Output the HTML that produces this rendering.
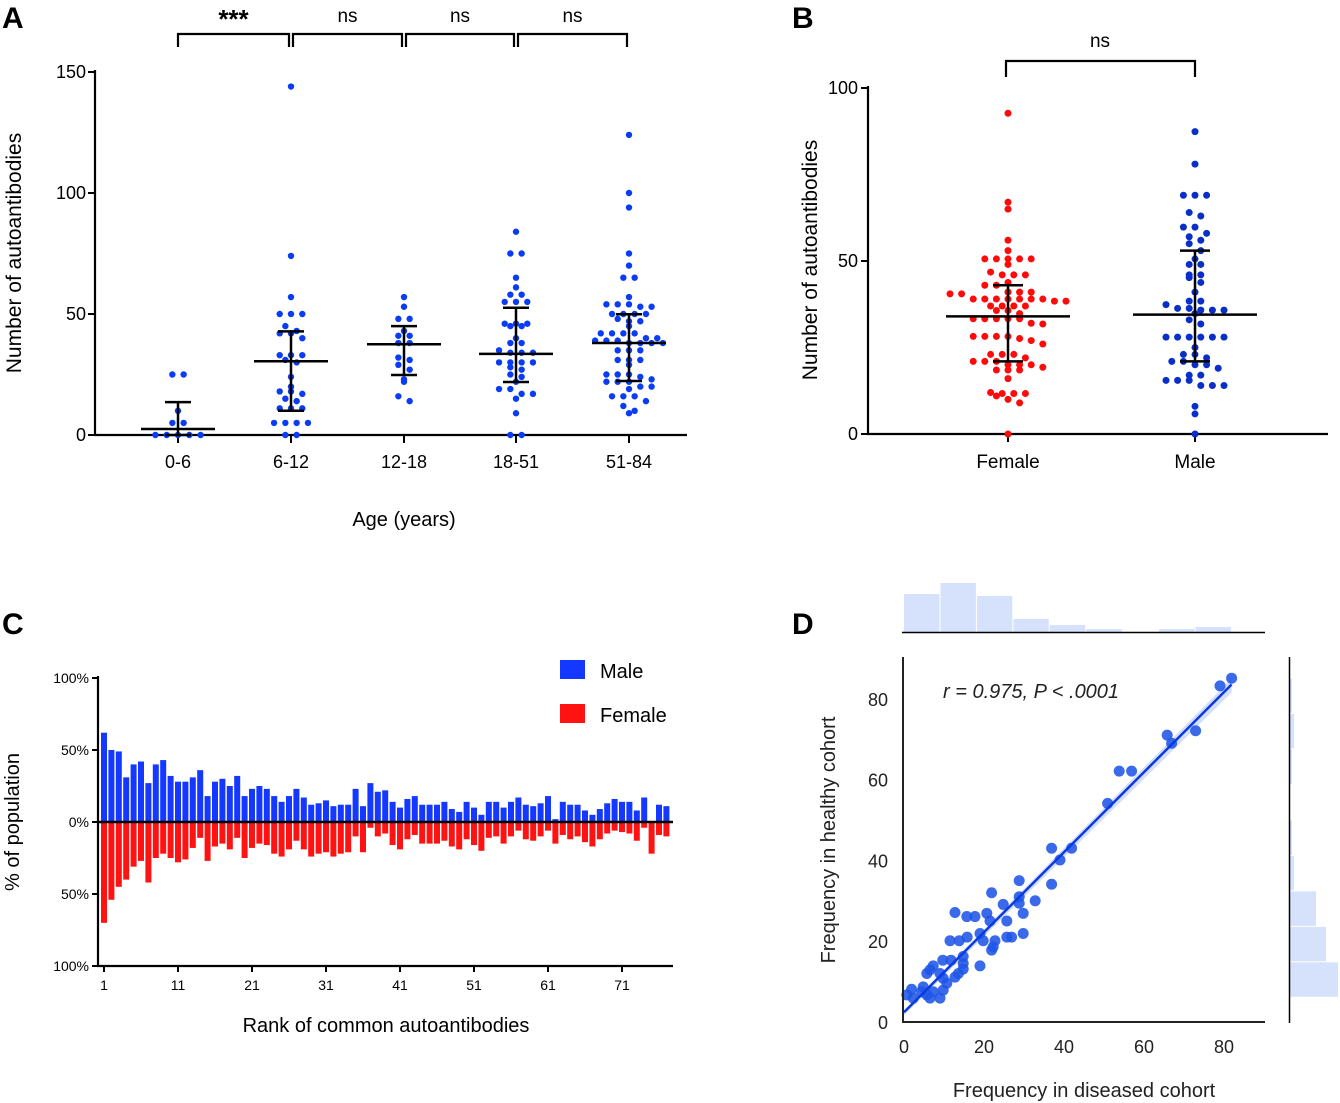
<!DOCTYPE html>
<html><head><meta charset="utf-8">
<style>
html,body{margin:0;padding:0;background:#fff;}
svg{display:block;font-family:"Liberation Sans",Arial,sans-serif;}
</style></head>
<body>
<svg id="fig" width="1340" height="1103" viewBox="0 0 1340 1103" xmlns="http://www.w3.org/2000/svg">
<g font-weight="bold" font-size="30">
<text x="2" y="28">A</text>
<text x="792" y="28">B</text>
<text x="2" y="634">C</text>
<text x="792" y="634">D</text>
</g>
<g id="pa"></g>
<g id="pb"></g>
<g id="pc"></g>
<g id="pd"></g>
</svg>
<script>
// ---------- Panel A data ----------
const ageGroups = ["0-6","6-12","12-18","18-51","51-84"];
const ageVals0 = [25,25,10,5,5,0,0,0,0,0];
const ageVals1 = [144,74,57,50,50,50,45,42,42,43,40,33,33,33,31,30,24,20,18,18,17,15,14,11,11,11,5,5,5,5,0,0];
const ageVals2 = [57,53,48,48,43,41,41,38,38,32,31,29,27,23,22,16,14];
const ageVals3 = [84,75,75,65,61,58,58,55,55,55,46,46,46,45,45,40,38,38,35,34,34,34,30,30,30,30,28,27,25,24,22,19,19,17,17,15,9,0,0];
const ageVals4 = [124,100,94,75,70,65,65,57,54,54,54,53,53,50,50,50,50,48,47,47,45,42,42,42,42,40,40,39,39,39,38,38,38,38,35,35,35,31,31,31,29,25,25,25,24,23,22,22,22,20,20,19,16,16,16,14,12,10,9];
const ageMean = [2.5,30.5,37.5,33.5,38];
const ageLow = [0,10,24.8,21.9,22.3];
const ageHigh = [13.6,42.8,45,52.6,49.9];
const ageTicks = [0,50,100,150];
const ageSig = ["***","ns","ns","ns"];
// ---------- Panel B data ----------
const sexGroups = ["Female","Male"];
const femaleVals = [92.7,67,65,56,53,50.6,50.6,50.6,50.6,50.6,49,46.8,46,46,46,43.8,43,43,41,41,41,40.5,40.5,39,39,39,39,39,39,39,38.4,38.4,37,37,37,37,35.7,35.7,34.8,33.3,33.3,33.3,33.3,33.3,32,31.8,28.2,28.2,28.2,28.2,27.6,27,26,23,23,23,22,21,21,21,20,20,20,19.3,18.5,18.5,18.5,16,12,11.7,11.7,11.7,11,10,9,0];
const maleVals = [87.4,78,69,69,69,64,63,59.8,59.8,58,57,56,55,53,50.6,49,49,46,46,45.2,43.8,41,38.4,38.4,37.4,36.3,36.3,35.8,35.8,35.8,34.8,33,31.8,28,28,28,28,28,28,25,23,23,22,21,21,20,20,19,17,17,15.5,15.5,15.5,14,14,14,8,5.8,0];
const sexMean = [34,34.5];
const sexLow = [21,21];
const sexHigh = [43,53];
const sexTicks = [0,50,100];
// ---------- Panel C data ----------
const maleFreq = [62,50,49,31,40,42,27,40,43,32,28,28,31,36,18,28,30,25,32,18,23,25,23,18,14,18,23,17,12,13,15,11,12,12,23,11,27,21,22,14,10,16,18,12,12,12,14,9,7,14,10,5,14,14,10,14,17,12,11,13,18,2,14,12,12,8,5,9,13,16,14,14,8,17,0,12,11];
const femaleFreq = [70,54,45,40,31,27,42,25,22,25,28,26,18,11,27,17,15,19,11,25,18,15,16,22,24,19,13,19,24,22,21,24,22,21,10,21,4,10,8,16,19,12,9,15,15,15,13,17,19,12,16,20,11,10,15,10,6,12,13,10,6,15,9,12,10,14,17,12,8,6,7,8,13,4,22,9,10];
const rankTicks = [1,11,21,31,41,51,61,71];
const pctTicks = [100,50,0,-50,-100];
// ---------- Panel D data ----------
const diseasedFreq = [81.9,79,72.9,66.9,65.8,56.9,53.8,50.9,41.9,39,36.9,36.9,32.8,28.8,28.8,28.8,29.8,24.8,21.9,20.7,17.75,15.7,12.75,25.7,21.5,25.7,26.9,29.8,22.75,22.3,21.9,19,19.8,15.8,13.8,11.5,19,14.8,14.8,11.75,9.7,7.3,5.7,6.5,12.75,9.8,9,4.8,4.4,7.3,9.8,6.5,9,1.9,0.7,2.3,5.7,13.6,14.8,10.7];
const healthyFreq = [85.1,83.2,72.1,69,71,62.1,62.1,54.1,43,40.1,43,34.1,30,35,31,29.4,26.9,29.1,32,26.9,26.1,26.1,27.1,25,25,21,21,21.9,20.1,18.6,17.8,21.9,20.1,21,20.1,20.1,13.9,16.2,13.1,15.3,15.3,13.9,12,12.9,11.1,10.8,12,8.7,7.5,7.5,7.9,5.9,5.9,8.1,6.7,5.9,6.7,12,14.5,9.6];
const topHistCounts = [38,49,36,13,7,3,0,3,5];
const rightHistCounts = [48,36,26,4,2,0,2,4,2];
const dTicks = [0,20,40,60,80];

const NS = "http://www.w3.org/2000/svg";
function mk(parent, tag, attrs, text){
  const el = document.createElementNS(NS, tag);
  for (const k in attrs) el.setAttribute(k, attrs[k]);
  if (text !== undefined) el.textContent = text;
  parent.appendChild(el);
  return el;
}
// row-binned scatter (GraphPad style)
function swarm(vals, yfn, cx, spacing, rowH){
  const bins = {};
  vals.forEach(v=>{
    const yy = yfn(v);
    const b = Math.round(yy/rowH);
    (bins[b] = bins[b] || []).push(yy);
  });
  const out = [];
  Object.keys(bins).forEach(b=>{
    const arr = bins[b];
    const n = arr.length;
    arr.forEach((yy,k)=>{
      out.push({x: cx + (k-(n-1)/2)*spacing, y: yy});
    });
  });
  return out;
}

// ================= PANEL A =================
(function(){
  const g = document.getElementById('pa');
  const y = v => 435 - v*2.42;
  const cx = [178,291,404,516,629];
  const all = [ageVals0,ageVals1,ageVals2,ageVals3,ageVals4];
  let ax = mk(g,'line',{x1:95,y1:70,x2:95,y2:436,stroke:'#000','stroke-width':2.2});
   
  ax = mk(g,'line',{x1:94,y1:435,x2:687,y2:435,stroke:'#000','stroke-width':2.2});
   
  ageTicks.forEach(t=>{
    mk(g,'line',{x1:88,y1:y(t),x2:95,y2:y(t),stroke:'#000','stroke-width':2});
    const tl = mk(g,'text',{x:86,y:y(t)+6,'text-anchor':'end','font-size':18},t);
     
  });
  ageGroups.forEach((grp,i)=>{
    mk(g,'line',{x1:cx[i],y1:435,x2:cx[i],y2:443,stroke:'#000','stroke-width':2});
    const tl = mk(g,'text',{x:cx[i],y:468,'text-anchor':'middle','font-size':18},grp);
     
    const pts = swarm(all[i], y, cx[i], 11.3, 8);
    pts.forEach(p=>{
      const c = mk(g,'circle',{cx:p.x,cy:p.y,r:3.2,fill:'#0a3cf5'});
       
    });
    const mw = 37, cw = 13;
    let m = mk(g,'line',{x1:cx[i]-mw,y1:y(ageMean[i]),x2:cx[i]+mw,y2:y(ageMean[i]),stroke:'#000','stroke-width':2.5});
     
    m = mk(g,'line',{x1:cx[i],y1:y(ageLow[i]),x2:cx[i],y2:y(ageHigh[i]),stroke:'#000','stroke-width':2.5});
     
    mk(g,'line',{x1:cx[i]-cw,y1:y(ageLow[i]),x2:cx[i]+cw,y2:y(ageLow[i]),stroke:'#000','stroke-width':2.5});
    mk(g,'line',{x1:cx[i]-cw,y1:y(ageHigh[i]),x2:cx[i]+cw,y2:y(ageHigh[i]),stroke:'#000','stroke-width':2.5});
  });
  ageSig.forEach((s,i)=>{
    const x1 = cx[i]+(i===0?0:2), x2 = cx[i+1]-2;
    const b = mk(g,'path',{d:`M${x1},47 V34 H${x2} V47`,fill:'none',stroke:'#000','stroke-width':2.2});
     
    const t = mk(g,'text',{x:(x1+x2)/2,y:s==='***'?28:22,'text-anchor':'middle','font-size':s==='***'?26:19,'font-weight':s==='***'?'bold':'normal'},s);
     
  });
  let t = mk(g,'text',{x:404,y:526,'text-anchor':'middle','font-size':20},'Age (years)');
   
  t = mk(g,'text',{x:0,y:0,'text-anchor':'middle','font-size':21,transform:'translate(21,253) rotate(-90)'},'Number of autoantibodies');
   
})();

// ================= PANEL B =================
(function(){
  const g = document.getElementById('pb');
  const y = v => 434 - v*3.46;
  const cx = [1008,1195];
  const cols = ['#ff0a0a','#0a2fc8'];
  const all = [femaleVals, maleVals];
  let ax = mk(g,'line',{x1:868,y1:86,x2:868,y2:435,stroke:'#000','stroke-width':2.2});
   
  ax = mk(g,'line',{x1:867,y1:434,x2:1328,y2:434,stroke:'#000','stroke-width':2.2});
   
  sexTicks.forEach(t=>{
    mk(g,'line',{x1:861,y1:y(t),x2:868,y2:y(t),stroke:'#000','stroke-width':2});
    const tl = mk(g,'text',{x:858,y:y(t)+6,'text-anchor':'end','font-size':18},t);
     
  });
  sexGroups.forEach((grp,i)=>{
    mk(g,'line',{x1:cx[i],y1:434,x2:cx[i],y2:442,stroke:'#000','stroke-width':2});
    const tl = mk(g,'text',{x:cx[i],y:468,'text-anchor':'middle','font-size':19},grp);
     
    const pts = swarm(all[i], y, cx[i], 11.6, 8.5);
    pts.forEach(p=>{
      const c = mk(g,'circle',{cx:p.x,cy:p.y,r:3.5,fill:cols[i]});
       
    });
    const mw = 62, cw = 15;
    let m = mk(g,'line',{x1:cx[i]-mw,y1:y(sexMean[i]),x2:cx[i]+mw,y2:y(sexMean[i]),stroke:'#000','stroke-width':2.5});
     
    m = mk(g,'line',{x1:cx[i],y1:y(sexLow[i]),x2:cx[i],y2:y(sexHigh[i]),stroke:'#000','stroke-width':2.5});
     
    mk(g,'line',{x1:cx[i]-cw,y1:y(sexLow[i]),x2:cx[i]+cw,y2:y(sexLow[i]),stroke:'#000','stroke-width':2.5});
    mk(g,'line',{x1:cx[i]-cw,y1:y(sexHigh[i]),x2:cx[i]+cw,y2:y(sexHigh[i]),stroke:'#000','stroke-width':2.5});
  });
  const b = mk(g,'path',{d:'M1006,77 V61 H1195 V77',fill:'none',stroke:'#000','stroke-width':2.2});
   
  let t = mk(g,'text',{x:1100,y:47,'text-anchor':'middle','font-size':19},'ns');
   
  t = mk(g,'text',{x:0,y:0,'text-anchor':'middle','font-size':21,transform:'translate(817,260) rotate(-90)'},'Number of autoantibodies');
   
})();

// ================= PANEL C =================
(function(){
  const g = document.getElementById('pc');
  const y = v => 822 - v*1.44;
  const x = r => 104 + (r-1)*7.4;
  maleFreq.forEach((v,i)=>{
    const r = mk(g,'rect',{x:x(i+1)-3,y:y(v),width:6,height:Math.max(0,822-y(v)),fill:'#1438ff'});
     
  });
  femaleFreq.forEach((v,i)=>{
    const r = mk(g,'rect',{x:x(i+1)-3,y:822,width:6,height:v*1.44,fill:'#ff1212'});
     
  });
  let ax = mk(g,'line',{x1:98,y1:822,x2:673,y2:822,stroke:'#000','stroke-width':2.5});
   
  ax = mk(g,'line',{x1:98,y1:676,x2:98,y2:967,stroke:'#000','stroke-width':2.2});
   
  ax = mk(g,'line',{x1:97,y1:966,x2:673,y2:966,stroke:'#000','stroke-width':2.2});
   
  pctTicks.forEach(t=>{
    mk(g,'line',{x1:92,y1:y(t),x2:98,y2:y(t),stroke:'#000','stroke-width':2});
    const tl = mk(g,'text',{x:89,y:y(t)+5,'text-anchor':'end','font-size':14},Math.abs(t)+'%');
     
  });
  rankTicks.forEach(r=>{
    mk(g,'line',{x1:x(r),y1:966,x2:x(r),y2:972,stroke:'#000','stroke-width':2});
    const tl = mk(g,'text',{x:x(r),y:990,'text-anchor':'middle','font-size':14},r);
     
  });
  let t = mk(g,'text',{x:386,y:1032,'text-anchor':'middle','font-size':20},'Rank of common autoantibodies');
   
  t = mk(g,'text',{x:0,y:0,'text-anchor':'middle','font-size':20,transform:'translate(19,822) rotate(-90)'},'% of population');
   
  let r = mk(g,'rect',{x:560,y:660,width:25,height:19,fill:'#1438ff'});
   
  t = mk(g,'text',{x:600,y:678,'font-size':20},'Male');
   
  r = mk(g,'rect',{x:560,y:704,width:25,height:19,fill:'#ff1212'});
   
  t = mk(g,'text',{x:600,y:722,'font-size':20},'Female');
   
})();

// ================= PANEL D =================
(function(){
  const g = document.getElementById('pd');
  const x = v => 904 + v*4;
  const y = v => 1022 - v*4.04;
  const binW = 82/topHistCounts.length;
  topHistCounts.forEach((c,i)=>{
    const r = mk(g,'rect',{x:x(i*binW),y:632-c,width:binW*4-1,height:c,fill:'#d6e2fb'});
     
  });
  let ax = mk(g,'line',{x1:902,y1:632.5,x2:1265,y2:632.5,stroke:'#000','stroke-width':1.5});
   
  const rbW = (85-6)/rightHistCounts.length;
  rightHistCounts.forEach((c,i)=>{
    const r = mk(g,'rect',{x:1290,y:y(6+(i+1)*rbW),width:c,height:rbW*4.04-1,fill:'#d6e2fb'});
     
  });
  ax = mk(g,'line',{x1:1289.5,y1:657,x2:1289.5,y2:1023,stroke:'#000','stroke-width':1.5});
   
  const n = diseasedFreq.length;
  const mx = diseasedFreq.reduce((a,b)=>a+b,0)/n, my = healthyFreq.reduce((a,b)=>a+b,0)/n;
  let sxy=0,sxx=0; for(let i=0;i<n;i++){sxy+=(diseasedFreq[i]-mx)*(healthyFreq[i]-my);sxx+=(diseasedFreq[i]-mx)**2;}
  const sl = sxy/sxx, ic = my - sl*mx;
  const xmin = 0, xmax = Math.max(...diseasedFreq);
  const band = mk(g,'path',{d:`M${x(xmin)},${y(ic+sl*xmin)-2} L${x(xmax)},${y(ic+sl*xmax)-6} L${x(xmax)},${y(ic+sl*xmax)+8} L${x(xmin)},${y(ic+sl*xmin)+3} Z`,fill:'#c9d6fa',opacity:0.8});
   
  diseasedFreq.forEach((v,i)=>{
    const c = mk(g,'circle',{cx:x(v),cy:y(healthyFreq[i]),r:5.5,fill:'#1f55e6','fill-opacity':0.88});
     
  });
  const ln = mk(g,'line',{x1:x(xmin),y1:y(ic+sl*xmin),x2:x(xmax),y2:y(ic+sl*xmax),stroke:'#0a3ae0','stroke-width':2.5});
   
  ax = mk(g,'line',{x1:903,y1:657,x2:903,y2:1023,stroke:'#222','stroke-width':2});
   
  ax = mk(g,'line',{x1:902,y1:1022,x2:1265,y2:1022,stroke:'#222','stroke-width':2});
   
  dTicks.forEach(t=>{
    let tl = mk(g,'text',{x:888,y:y(t)+7,'text-anchor':'end','font-size':18,fill:'#222'},t);
     
    tl = mk(g,'text',{x:x(t),y:1053,'text-anchor':'middle','font-size':18,fill:'#222'},t);
     
  });
  let t = mk(g,'text',{x:943,y:698,'font-size':20,'font-style':'italic',fill:'#222'},'r = 0.975, P < .0001');
   
  t = mk(g,'text',{x:1084,y:1097,'text-anchor':'middle','font-size':20,fill:'#222'},'Frequency in diseased cohort');
   
  t = mk(g,'text',{x:0,y:0,'text-anchor':'middle','font-size':20,fill:'#222',transform:'translate(835,840) rotate(-90)'},'Frequency in healthy cohort');
   
})();
</script>
</body></html>
